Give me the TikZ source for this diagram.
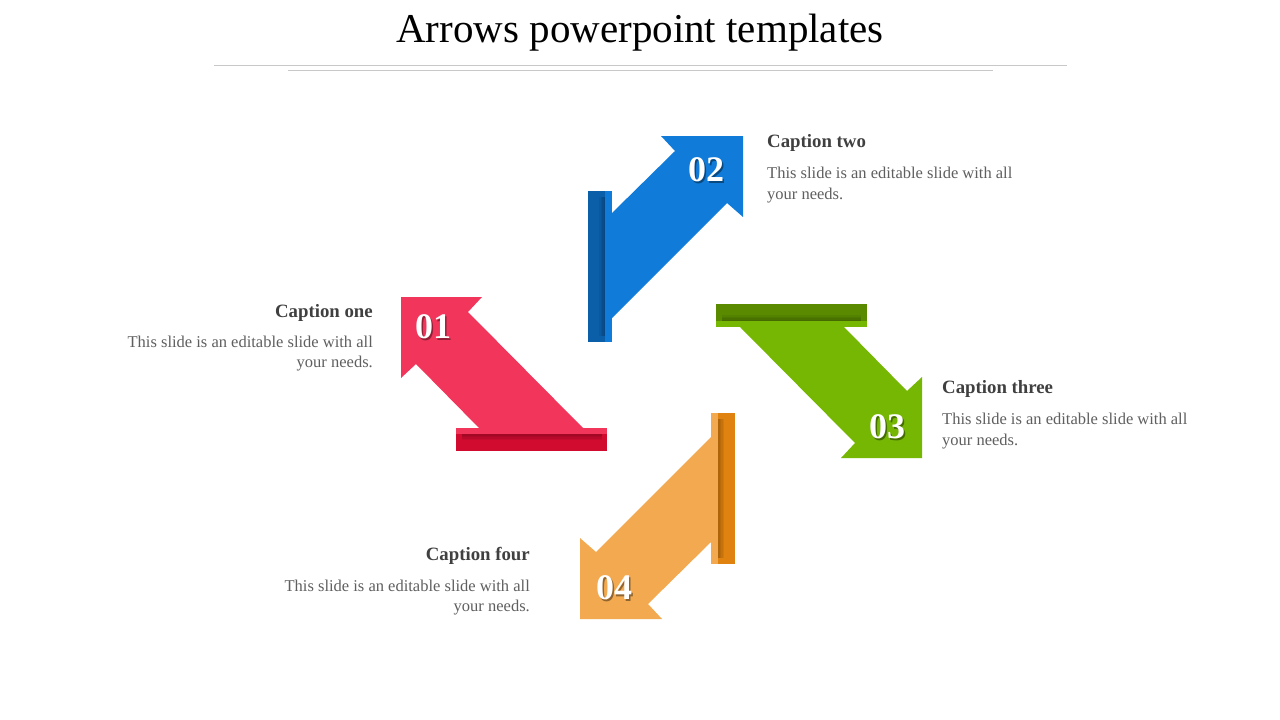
\documentclass[tikz,border=0pt]{standalone}
\usepackage{fontspec}
\setmainfont{Liberation Serif}
\definecolor{cred}{HTML}{F2365B}
\definecolor{credd}{HTML}{D10B30}
\definecolor{cblue}{HTML}{107BD8}
\definecolor{cblued}{HTML}{0B5EA8}
\definecolor{cgreen}{HTML}{76B703}
\definecolor{cgreend}{HTML}{598A00}
\definecolor{corange}{HTML}{F2A94F}
\definecolor{coranged}{HTML}{E0820F}
\definecolor{rulegray}{HTML}{C8C8C8}
\definecolor{capgray}{HTML}{404040}
\definecolor{txtgray}{HTML}{5F5F5F}
\tikzset{
  num/.style={font=\fontsize{36}{36}\selectfont\bfseries, text=white, inner sep=0pt},
  numshadow/.style={font=\fontsize{36}{36}\selectfont\bfseries, text=black, opacity=0.4, inner sep=0pt},
  captitle/.style={font=\fontsize{18.8}{18.8}\selectfont\bfseries, text=capgray, inner sep=0pt},
  capbody/.style={font=\fontsize{16.5}{16.5}\selectfont, text=txtgray, inner sep=0pt},
  titletext/.style={font=\fontsize{41}{41}\selectfont, text=black, inner sep=0pt},
  ruleline/.style={draw=rulegray, line width=1.2pt},
  softshade/.style={fill=black, opacity=0.06}
}
\begin{document}
\begin{tikzpicture}[x=1pt,y=-1pt]
\useasboundingbox (0,0) rectangle (1280,720);
\fill[white] (0,0) rectangle (1280,720);

% title
\node[titletext, anchor=base] (title) at (640,42) {Arrows powerpoint templates};
\draw[ruleline] (214,65.5) -- (1067,65.5);
\draw[ruleline] (288,70.5) -- (993,70.5);

% red arrow (01)
\fill[cred] (479,428) -- (416,364) -- (401,378) -- (401,297) -- (482,297) -- (468,312) -- (583,428) -- cycle;
\fill[cred] (456,428) rectangle (607,434);
\fill[credd] (456,434) rectangle (607,451);
\foreach \w in {1.5,3,4.5,6} {\path[softshade] (462,434) rectangle (602,{434+\w});}

% blue arrow (02)
\fill[cblue] (612,213) -- (675,151) -- (661,136) -- (743,136) -- (743,217) -- (727,203) -- (612,318) -- cycle;
\fill[cblued] (588,191) rectangle (605,342);
\fill[cblue] (605,191) rectangle (612,342);
\foreach \w in {1.5,3,4.5,6} {\path[softshade] ({605-\w},197) rectangle (605,336);}

% green arrow (03)
\fill[cgreen] (844,327) -- (907,391) -- (922,377) -- (922,458) -- (841,458) -- (855,443) -- (740,327) -- cycle;
\fill[cgreend] (716,304) rectangle (867,321);
\fill[cgreen] (716,321) rectangle (867,327);
\foreach \w in {1.5,3,4.5,6} {\path[softshade] (722,{321-\w}) rectangle (861,321);}

% orange arrow (04)
\fill[corange] (711,542) -- (648,604) -- (662,619) -- (580,619) -- (580,538) -- (596,552) -- (711,437) -- cycle;
\fill[corange] (711,413) rectangle (718,564);
\fill[coranged] (718,413) rectangle (735,564);
\foreach \w in {1.5,3,4.5,6} {\path[softshade] (718,419) rectangle ({718+\w},558);}

% numbers
\node[numshadow] (s1) at (434.5,328.5) {01};
\node[num] (n1) at (433,327) {01};
\node[numshadow] (s2) at (707.5,171.5) {02};
\node[num] (n2) at (706,170) {02};
\node[numshadow] (s3) at (888.5,428.5) {03};
\node[num] (n3) at (887,427) {03};
\node[numshadow] (s4) at (615.5,589.5) {04};
\node[num] (n4) at (614,588) {04};

% captions
\node[captitle, anchor=base east] (c1t) at (373,317) {Caption one};
\node[capbody, anchor=base east] (c1a) at (373,347) {This slide is an editable slide with all};
\node[capbody, anchor=base east] (c1b) at (373,367) {your needs.};

\node[captitle, anchor=base west] (c2t) at (767,147) {Caption two};
\node[capbody, anchor=base west] (c2a) at (767,178) {This slide is an editable slide with all};
\node[capbody, anchor=base west] (c2b) at (767,199) {your needs.};

\node[captitle, anchor=base west] (c3t) at (942,393) {Caption three};
\node[capbody, anchor=base west] (c3a) at (942,424) {This slide is an editable slide with all};
\node[capbody, anchor=base west] (c3b) at (942,445) {your needs.};

\node[captitle, anchor=base east] (c4t) at (530,560) {Caption four};
\node[capbody, anchor=base east] (c4a) at (530,591) {This slide is an editable slide with all};
\node[capbody, anchor=base east] (c4b) at (530,611) {your needs.};
\end{tikzpicture}
\end{document}
